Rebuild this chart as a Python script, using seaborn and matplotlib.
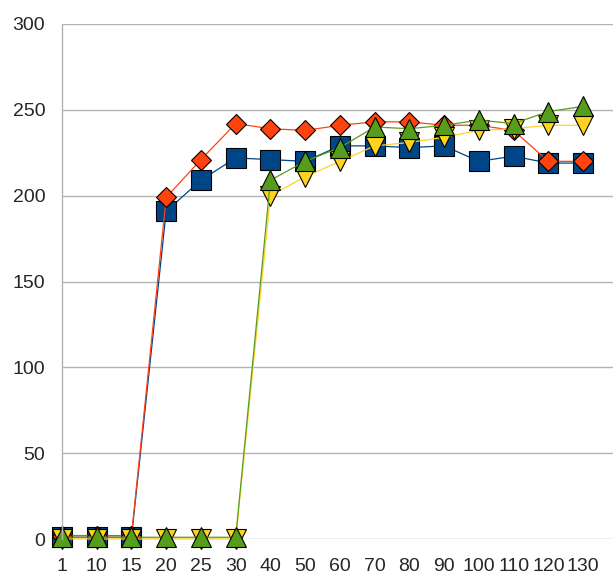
import matplotlib
matplotlib.use("Agg")
import matplotlib.pyplot as plt
import numpy as np
import pandas as pd
import seaborn as sns

categories = ["1", "10", "15", "20", "25", "30", "40", "50", "60", "70",
              "80", "90", "100", "110", "120", "130"]

blue_vals = [1, 1, 1, 191, 209, 222, 221, 220, 229, 229, 228, 229, 220, 223, 219, 219]
red_vals = [2, 2, 2, 199, 221, 242, 239, 238, 241, 243, 243, 241, 241, 238, 220, 220]
yellow_vals = [0, 0, 0, 0, 0, 0, 200, 211, 220, 229, 231, 234, 238, 239, 241, 241]
green_vals = [1, 1, 1, 1, 1, 1, 209, 220, 228, 240, 239, 241, 244, 242, 249, 252]

series = [
    ("blue", blue_vals, "#004586", "s", 13.8),
    ("red", red_vals, "#ff420e", "D", 10.5),
    ("yellow", yellow_vals, "#ffd320", "v", 14.0),
    ("green", green_vals, "#579d1c", "^", 14.0),
]

sns.set_style("white")
plt.rcParams["font.family"] = ["Liberation Sans", "DejaVu Sans"]

fig = plt.figure(figsize=(6.13, 5.78), dpi=100)
ax = fig.add_axes([62 / 613, 1 - 539 / 578, 1 - 62 / 613, (539 - 24) / 578])

pos = np.arange(len(categories))
for name, vals, color, marker, ms in series:
    df = pd.DataFrame({"x": pos, "y": vals})
    sns.lineplot(data=df, x="x", y="y", ax=ax, color=color, marker=marker,
                 markersize=ms, markeredgecolor="black", markeredgewidth=0.8,
                 linewidth=0.9, clip_on=False, legend=False)

ax.set_ylim(0, 300)
ax.set_xlim(0, (613 - 61) / 34.8)
ax.set_yticks(range(0, 301, 50))
ax.set_xticks(pos)
ax.set_xticklabels(categories)
ax.set_xlabel("")
ax.set_ylabel("")

ax.yaxis.grid(True, color="#b3b3b3", linewidth=1.0)
ax.set_axisbelow(True)
for side in ["top", "right", "bottom"]:
    ax.spines[side].set_visible(False)
ax.spines["left"].set_color("#b3b3b3")
ax.spines["left"].set_linewidth(1.0)
ax.tick_params(axis="y", length=8, width=1.0, color="#b3b3b3", pad=4, labelsize=14)
ax.tick_params(axis="x", length=8, width=1.0, color="#b3b3b3", pad=6, labelsize=14,
               direction="out")

fig.savefig("out.png", dpi=100)
